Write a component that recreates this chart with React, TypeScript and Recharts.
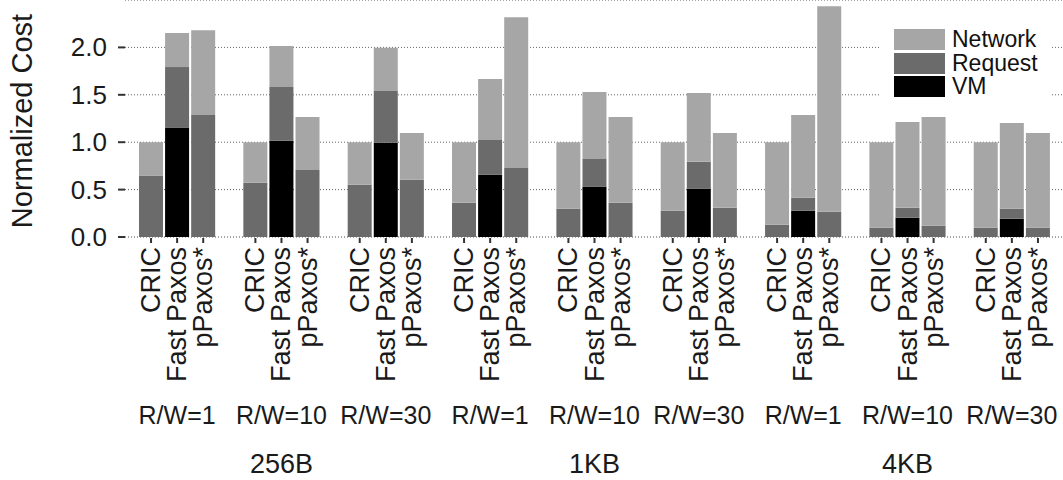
import React from 'react';
import { BarChart, Bar, XAxis, YAxis, CartesianGrid, Legend } from 'recharts';

const FONT = '"Liberation Sans", Arial, Helvetica, sans-serif';

// x categories
const systems = ['CRIC', 'Fast Paxos', 'pPaxos*'];
const ratios = ['R/W=1', 'R/W=10', 'R/W=30', 'R/W=1', 'R/W=10', 'R/W=30', 'R/W=1', 'R/W=10', 'R/W=30'];
const sizes = ['256B', '1KB', '4KB'];

// stacked values, 3 bars per group (CRIC, Fast Paxos, pPaxos*)
const vm = [0, 1.154, 0, 0, 1.014, 0, 0, 0.993, 0, 0, 0.656, 0, 0, 0.529, 0, 0, 0.508, 0, 0, 0.277, 0, 0, 0.203, 0, 0, 0.193, 0];
const request = [0.645, 0.638, 1.287, 0.572, 0.568, 0.708, 0.55, 0.547, 0.603, 0.361, 0.368, 0.729, 0.298, 0.295, 0.361, 0.277, 0.285, 0.308, 0.129, 0.137, 0.266, 0.098, 0.105, 0.119, 0.098, 0.105, 0.098];
const network = [0.355, 0.36, 0.895, 0.428, 0.432, 0.558, 0.45, 0.456, 0.495, 0.639, 0.642, 1.59, 0.702, 0.705, 0.905, 0.723, 0.726, 0.79, 0.871, 0.873, 2.169, 0.902, 0.905, 1.147, 0.902, 0.904, 1.0];

const majorTicks = [0, 0.5, 1.0, 1.5, 2.0];
const minorTicks = [0.25, 0.75, 1.25, 1.75, 2.25];

const COLORS = { network: '#a6a6a6', request: '#6b6b6b', vm: '#000000' };

interface Row {
  key: string;
  system?: number;
  group?: number;
  vm?: number;
  request?: number;
  network?: number;
}

const rows: Row[] = [];
ratios.forEach((_, g) => {
  if (g > 0) rows.push({ key: `gap${g}` });
  systems.forEach((_, s) => {
    const i = g * 3 + s;
    rows.push({ key: `b${i}`, system: s, group: g, vm: vm[i], request: request[i], network: network[i] });
  });
});
const rowByKey: Record<string, Row> = {};
rows.forEach((r) => (rowByKey[r.key] = r));

const XTick = (props: any) => {
  const { x, y, payload } = props;
  const row = rowByKey[payload.value];
  if (!row || row.system === undefined) return null;
  const g = row.group as number;
  return (
    <g>
      <line x1={x} x2={x} y1={y + 1} y2={y + 6} stroke="#333" strokeWidth={2} />
      <text
        x={x}
        y={y + 10}
        transform={`rotate(-90 ${x} ${y + 10})`}
        textAnchor="end"
        dominantBaseline="central"
        fontSize={27}
        fontFamily={FONT}
        fill="#1a1a1a"
      >
        {systems[row.system]}
      </text>
      {row.system === 1 && (
        <text x={x} y={424} textAnchor="middle" fontSize={25} fontFamily={FONT} fill="#1a1a1a">
          {ratios[g]}
        </text>
      )}
      {row.system === 1 && g % 3 === 1 && (
        <text x={x} y={473} textAnchor="middle" fontSize={27} fontFamily={FONT} fill="#1a1a1a">
          {sizes[Math.floor(g / 3)]}
        </text>
      )}
    </g>
  );
};

const YTick = (props: any) => {
  const { x, y, payload } = props;
  return (
    <text x={x - 8} y={y} textAnchor="end" dominantBaseline="central" fontSize={26} fontFamily={FONT} fill="#1a1a1a">
      {Number(payload.value).toFixed(1)}
    </text>
  );
};

const LegendBox = (props: any) => {
  const items = props.payload || [];
  return (
    <div style={{ background: '#fff', padding: '8px 0 4px 14px', width: 158 }}>
      {items.map((it: any) => (
        <div key={it.value} style={{ display: 'flex', alignItems: 'center', height: 23.5 }}>
          <div style={{ width: 51, height: 21, background: it.color }} />
          <span style={{ marginLeft: 7, fontSize: 23, fontFamily: FONT, color: '#111', lineHeight: '21px' }}>
            {it.value}
          </span>
        </div>
      ))}
    </div>
  );
};

const App: React.FC = () => {
  return (
    <div style={{ position: 'absolute', left: 0, top: 0 }}>
      <BarChart
        width={1063}
        height={480}
        data={rows}
        margin={{ top: 0, right: 0, bottom: 0, left: 0 }}
        barCategoryGap={1}
      >
        <CartesianGrid yAxisId="minor" vertical={false} stroke="#c8c8c8" strokeDasharray="1 2" />
        <CartesianGrid yAxisId="main" vertical={false} stroke="#666" strokeDasharray="1 2" />
        <XAxis
          dataKey="key"
          interval={0}
          height={243}
          axisLine={false}
          tickLine={false}
          tickSize={0}
          tickMargin={0}
          padding={{ left: 13, right: 12 }}
          tick={<XTick />}
        />
        <YAxis
          yAxisId="main"
          width={125}
          domain={[0, 2.5]}
          ticks={majorTicks}
          axisLine={false}
          tickLine={{ stroke: '#333', strokeWidth: 2 }}
          tickSize={7}
          tickMargin={3}
          tick={<YTick />}
          label={{
            content: () => (
              <text
                x={22}
                y={121}
                transform="rotate(-90 22 121)"
                textAnchor="middle"
                dominantBaseline="central"
                fontSize={29}
                fontFamily={FONT}
                fill="#1a1a1a"
              >
                Normalized Cost
              </text>
            ),
          }}
        />
        <YAxis yAxisId="minor" hide domain={[0, 2.5]} ticks={minorTicks} />
        <Legend
          layout="horizontal"
          align="center"
          verticalAlign="middle"
          content={<LegendBox />}
          wrapperStyle={{ position: 'absolute', left: 880, top: 20, width: 172 }}
        />
        <Bar yAxisId="main" dataKey="vm" name="VM" stackId="a" fill={COLORS.vm} isAnimationActive={false} />
        <Bar yAxisId="main" dataKey="request" name="Request" stackId="a" fill={COLORS.request} isAnimationActive={false} />
        <Bar yAxisId="main" dataKey="network" name="Network" stackId="a" fill={COLORS.network} isAnimationActive={false} />
      </BarChart>
    </div>
  );
};

export default App;
